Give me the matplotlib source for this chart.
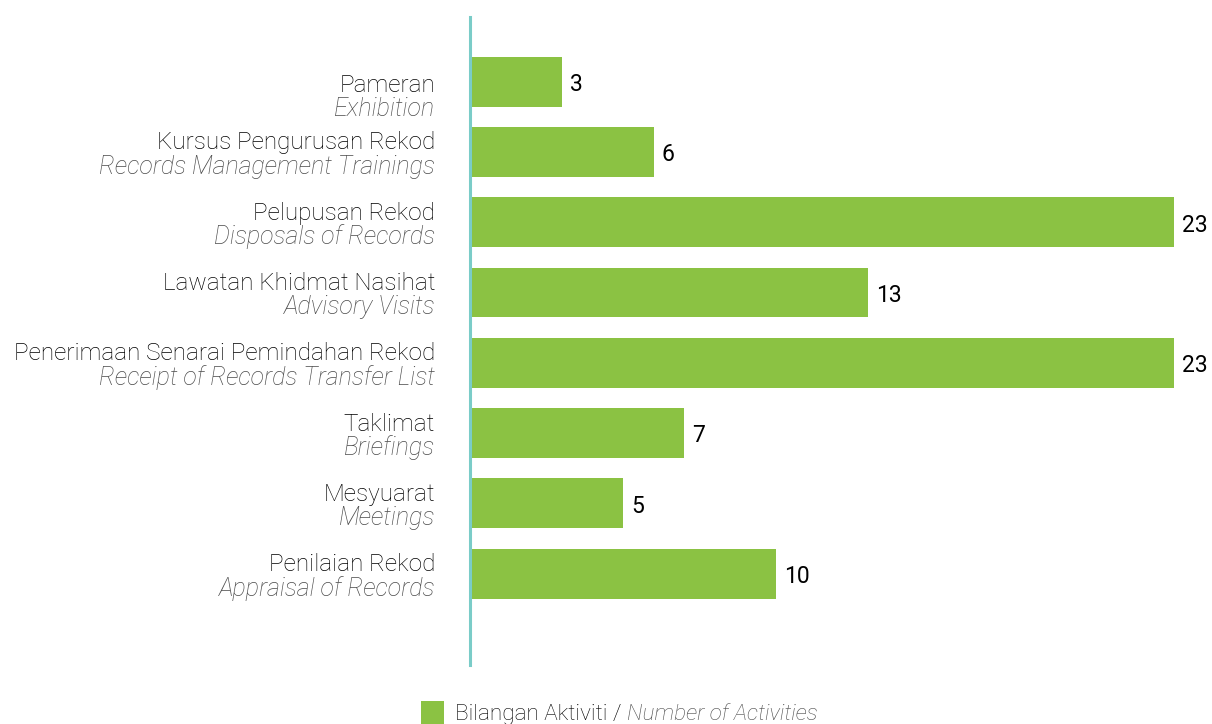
import matplotlib
matplotlib.use("Agg")
import matplotlib.pyplot as plt
from matplotlib.patches import Rectangle
from matplotlib.transforms import blended_transform_factory

categories_ms = ["Pameran", "Kursus Pengurusan Rekod", "Pelupusan Rekod",
                 "Lawatan Khidmat Nasihat", "Penerimaan Senarai Pemindahan Rekod",
                 "Taklimat", "Mesyuarat", "Penilaian Rekod"]
categories_en = ["Exhibition", "Records Management Trainings", "Disposals of Records",
                 "Advisory Visits", "Receipt of Records Transfer List",
                 "Briefings", "Meetings", "Appraisal of Records"]
values = [3, 6, 23, 13, 23, 7, 5, 10]
legend_ms = "Bilangan Aktiviti / "
legend_en = "Number of Activities"

GREEN = "#8BC243"
TEAL = "#7ACCC8"
DARK = "#000000"
GRAY = "#4a4a4a"
FONT = "Roboto"

W, H = 1212, 724
fig = plt.figure(figsize=(W / 100, H / 100), dpi=100)
ax = fig.add_axes([470 / W, 1 - 665 / H, (W - 470) / W, (665 - 17) / H])

ypos = list(range(len(values)))
ax.barh(ypos, values, height=0.71, color=GREEN, left=0, zorder=2)
ax.set_xlim(0, (W - 471) / 30.55)
ax.set_ylim(8.3, -0.92)
for s in ["top", "right", "bottom"]:
    ax.spines[s].set_visible(False)
ax.spines["left"].set_color(TEAL)
ax.spines["left"].set_linewidth(2.2)
ax.set_xticks([])
ax.set_yticks([])

for i, v in enumerate(values):
    ax.annotate(str(v), xy=(v, i), xytext=(6, -2), textcoords="offset points",
                va="center", ha="left", fontsize=16.5, color="#000000",
                family=FONT, fontweight="normal")

btr = blended_transform_factory(ax.transAxes, ax.transData)
for i, (ms, en) in enumerate(zip(categories_ms, categories_en)):
    shift = -9 if i == 0 else 0
    ax.annotate(ms, xy=(0, i), xycoords=btr, xytext=(-25, 6.5 + shift), textcoords="offset points",
                ha="right", va="center", fontsize=17.5, color=DARK, family=FONT,
                fontweight="light", annotation_clip=False)
    ax.annotate(en, xy=(0, i), xycoords=btr, xytext=(-25, -10.5 + shift), textcoords="offset points",
                ha="right", va="center", fontsize=18, color=GRAY, family=FONT,
                fontweight="light", style="italic", annotation_clip=False)

fig.patches.append(Rectangle((421 / W, 0), 23 / W, 23 / H, transform=fig.transFigure,
                             facecolor=GREEN, edgecolor="none"))
t1 = fig.text(455 / W, 1 - 714.5 / H, legend_ms, ha="left", va="center", fontsize=16.2,
              color=DARK, family=FONT, fontweight="light")
fig.canvas.draw()
ax.annotate(legend_en, xy=(1, 0.5), xycoords=t1, ha="left", va="center", fontsize=16.2,
            color=GRAY, family=FONT, fontweight="light", style="italic",
            annotation_clip=False)

fig.savefig("out.png", dpi=100)
